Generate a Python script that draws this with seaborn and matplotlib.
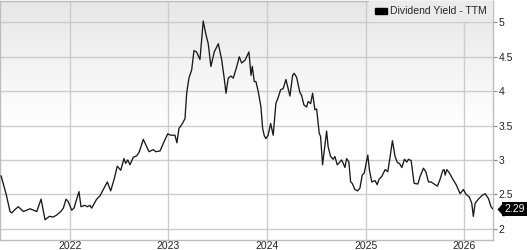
import numpy as np
import pandas as pd
import matplotlib
matplotlib.use("Agg")
import matplotlib.pyplot as plt
import matplotlib.transforms as mtransforms
from matplotlib.patches import Patch
import seaborn as sns

# ---------------- data ----------------
decimal_years = [
    2021.300, 2021.350, 2021.391, 2021.408, 2021.442, 2021.475, 2021.526, 2021.560,
    2021.594, 2021.627, 2021.662, 2021.706, 2021.746, 2021.790, 2021.830, 2021.865,
    2021.906, 2021.932, 2021.959, 2021.983, 2022.017, 2022.041, 2022.091, 2022.112,
    2022.152, 2022.176, 2022.203, 2022.220, 2022.271, 2022.305, 2022.338, 2022.379,
    2022.413, 2022.450, 2022.480, 2022.515, 2022.548, 2022.565, 2022.586, 2022.609,
    2022.643, 2022.677, 2022.704, 2022.744, 2022.779, 2022.802, 2022.846, 2022.870,
    2022.914, 2022.947, 2022.992, 2023.025, 2023.066, 2023.086, 2023.107, 2023.134,
    2023.168, 2023.185, 2023.208, 2023.236, 2023.259, 2023.286, 2023.320, 2023.353,
    2023.378, 2023.404, 2023.431, 2023.465, 2023.506, 2023.540, 2023.566, 2023.584,
    2023.607, 2023.635, 2023.658, 2023.692, 2023.719, 2023.743, 2023.777, 2023.817,
    2023.838, 2023.851, 2023.871, 2023.888, 2023.912, 2023.939, 2023.956, 2023.973,
    2023.990, 2024.013, 2024.038, 2024.064, 2024.091, 2024.115, 2024.139, 2024.166,
    2024.193, 2024.234, 2024.261, 2024.277, 2024.302, 2024.335, 2024.352, 2024.376,
    2024.403, 2024.419, 2024.444, 2024.464, 2024.487, 2024.505, 2024.531, 2024.545,
    2024.565, 2024.589, 2024.606, 2024.622, 2024.647, 2024.673, 2024.690, 2024.714,
    2024.741, 2024.758, 2024.775, 2024.792, 2024.809, 2024.832, 2024.850, 2024.866,
    2024.893, 2024.921, 2024.944, 2024.968, 2024.988, 2025.022, 2025.039, 2025.063,
    2025.096, 2025.117, 2025.137, 2025.164, 2025.198, 2025.225, 2025.249, 2025.272,
    2025.299, 2025.323, 2025.343, 2025.368, 2025.394, 2025.418, 2025.435, 2025.462,
    2025.492, 2025.530, 2025.553, 2025.587, 2025.611, 2025.638, 2025.665, 2025.695,
    2025.729, 2025.756, 2025.784, 2025.797, 2025.807, 2025.824, 2025.851, 2025.885,
    2025.919, 2025.959, 2025.993, 2026.020, 2026.054, 2026.078, 2026.094, 2026.112,
    2026.145, 2026.180, 2026.213, 2026.247, 2026.274, 2026.290,
]
yield_ttm = [
    2.77, 2.51, 2.25, 2.23, 2.28, 2.32, 2.25, 2.27,
    2.29, 2.27, 2.25, 2.43, 2.13, 2.18, 2.17, 2.20,
    2.25, 2.30, 2.43, 2.39, 2.27, 2.30, 2.54, 2.32,
    2.34, 2.32, 2.34, 2.30, 2.43, 2.48, 2.57, 2.68,
    2.55, 2.73, 2.91, 2.85, 3.02, 2.95, 3.00, 2.93,
    3.04, 3.06, 3.12, 3.30, 3.19, 3.12, 3.15, 3.12,
    3.13, 3.24, 3.38, 3.36, 3.36, 3.25, 3.46, 3.51,
    3.60, 3.97, 4.19, 4.31, 4.59, 4.57, 4.46, 5.02,
    4.84, 4.69, 4.36, 4.57, 4.69, 4.46, 4.19, 3.97,
    4.19, 4.22, 4.19, 4.35, 4.50, 4.41, 4.45, 4.57,
    4.23, 4.36, 4.14, 4.14, 3.99, 3.77, 3.46, 3.35,
    3.31, 3.36, 3.53, 3.36, 3.82, 3.91, 4.02, 4.04,
    4.17, 3.93, 4.23, 4.26, 4.20, 3.98, 3.94, 3.80,
    3.77, 3.85, 3.82, 3.97, 3.73, 3.74, 3.39, 3.34,
    2.93, 3.22, 3.42, 3.19, 3.05, 3.01, 3.05, 2.93,
    2.97, 3.00, 2.95, 2.89, 3.02, 2.97, 2.68, 2.66,
    2.57, 2.55, 2.59, 2.78, 2.81, 3.07, 2.85, 2.68,
    2.70, 2.64, 2.72, 2.76, 2.86, 2.83, 3.05, 3.28,
    3.05, 2.96, 2.95, 2.89, 3.01, 2.97, 3.01, 2.99,
    2.66, 2.65, 2.76, 2.88, 2.83, 2.68, 2.68, 2.65,
    2.62, 2.72, 2.85, 2.86, 2.78, 2.86, 2.81, 2.72,
    2.64, 2.51, 2.57, 2.50, 2.46, 2.37, 2.18, 2.37,
    2.43, 2.48, 2.51, 2.44, 2.32, 2.29,
]
x_tick_years = [2022, 2023, 2024, 2025, 2026]
y_ticks = [2, 2.5, 3, 3.5, 4, 4.5, 5]
y_tick_labels = ["2", "2.5", "3", "3.5", "4", "4.5", "5"]
series_name = "Dividend Yield - TTM"
last_value_label = "2.29"
x_range_years = [2021.289, 2026.291]
y_range = [1.836, 5.315]


def year_to_date(y):
    yr = int(np.floor(y))
    return pd.Timestamp(year=yr, month=1, day=1) + pd.Timedelta(days=(y - yr) * 365.25)


df = pd.DataFrame({
    "date": [year_to_date(v) for v in decimal_years],
    "value": yield_ttm,
})

# ---------------- figure ----------------
sns.set_theme(style="white")
plt.rcParams["font.family"] = ["Liberation Sans", "DejaVu Sans"]

fig = plt.figure(figsize=(5.27, 2.50), dpi=100)
ax = fig.add_axes([0.0, 0.04, 0.935, 0.957])
ax.set_facecolor("white")

# gradient background (light gray at top fading to white)
frac = np.linspace(1, 0, 256)  # row 0 = top
shade = np.clip(0.905 + (1 - 0.905) * (1 - frac) / 0.52, 0.905, 1.0)
grad = np.dstack([shade, shade, shade]).reshape(256, 1, 3)
ax.imshow(grad, extent=[0, 1, 0, 1], transform=ax.transAxes, aspect="auto",
          zorder=0, interpolation="bilinear")

sns.lineplot(data=df, x="date", y="value", ax=ax, color="#1a1a1a",
             linewidth=0.95, zorder=3, legend=False)

ax.set_xlim(year_to_date(x_range_years[0]), year_to_date(x_range_years[1]))
ax.set_ylim(*y_range)

ax.set_xticks([year_to_date(y) for y in x_tick_years])
ax.set_xticklabels([str(y) for y in x_tick_years])
ax.yaxis.tick_right()
ax.set_yticks(y_ticks)
ax.set_yticklabels(y_tick_labels)
ax.set_xlabel("")
ax.set_ylabel("")

ax.grid(True, color="#cccccc", linewidth=1.0, zorder=1)
ax.set_axisbelow(True)
for s in ["top", "right", "bottom", "left"]:
    ax.spines[s].set_visible(True)
    ax.spines[s].set_color("#bdbdbd")
    ax.spines[s].set_linewidth(1.0)

ax.tick_params(axis="x", length=0, pad=1.0, labelsize=7.5, labelcolor="#222222")
ax.tick_params(axis="y", direction="out", length=3, width=0.8, color="#888888",
               pad=1.0, labelsize=7.5, labelcolor="#222222", right=True, left=False)

# legend
handle = Patch(facecolor="black", edgecolor="black", label=series_name)
leg = ax.legend(handles=[handle], loc="upper right", bbox_to_anchor=(1.0, 1.0),
                frameon=True, fancybox=False, framealpha=1.0, facecolor="#ebebeb",
                edgecolor="none", borderaxespad=0.0, fontsize=7.5,
                handlelength=1.1, handleheight=0.45, handletextpad=0.35,
                borderpad=0.55)
leg.set_zorder(5)

# last value marker with left arrow
blend = mtransforms.blended_transform_factory(ax.transAxes, ax.transData)
axes_w_px = 0.935 * 527
ax.plot([1 + 4 / axes_w_px], [yield_ttm[-1]], transform=blend, clip_on=False,
        marker=[(0, 0), (0.45, 0.5), (0.45, -0.5)], markersize=10.8,
        color="black", markeredgewidth=0, zorder=6)
ax.text(1 + 22 / axes_w_px, yield_ttm[-1], last_value_label, transform=blend,
        ha="center", va="center", color="white", fontsize=7.5, zorder=7,
        bbox=dict(boxstyle="square,pad=0.2", facecolor="black", edgecolor="none"),
        clip_on=False)

fig.savefig("out.png", dpi=100)
